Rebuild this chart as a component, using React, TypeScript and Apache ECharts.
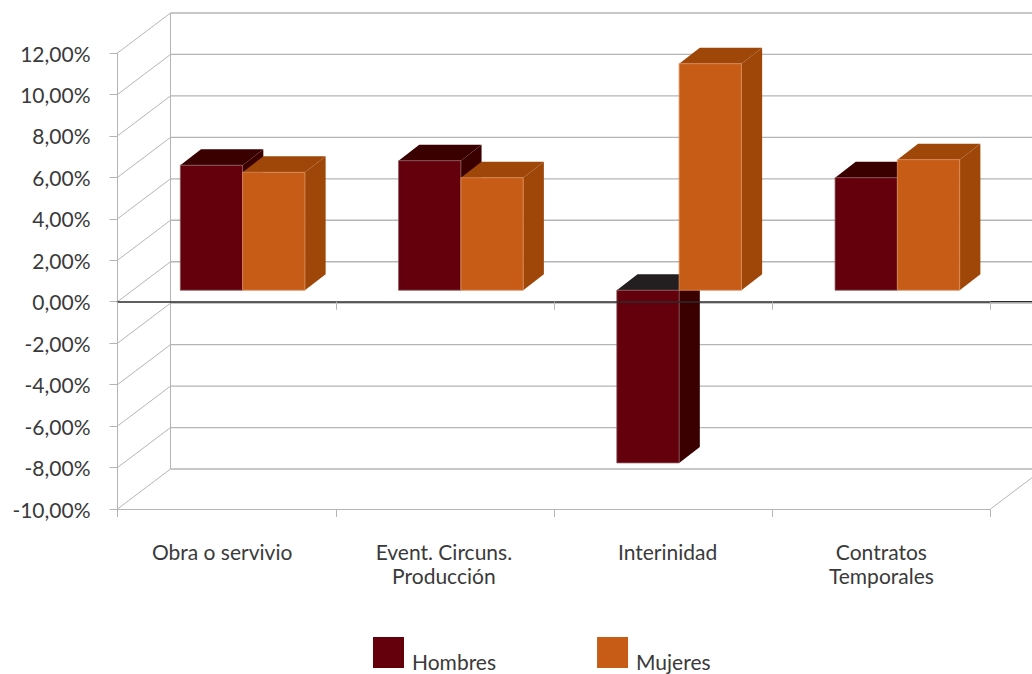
import React, { useEffect, useRef } from "react";
import * as echarts from "echarts";

const categories = ["Obra o servivio", "Event. Circuns.\nProducción", "Interinidad", "Contratos\nTemporales"];
const hombres = [6.03, 6.25, -8.33, 5.43];
const mujeres = [5.69, 5.43, 10.93, 6.3];
const yTicks = [12, 10, 8, 6, 4, 2, 0, -2, -4, -6, -8, -10];

const FONT = "Lato";
const FONT_SIZE = 21;
const GRID = "#b5b5b5";
const TEXT = "#3a3a3a";
const WALL_DX = 53;
const WALL_DY = -40;
const BAR_NEAR_DX = 16;
const BAR_NEAR_DY = -11.5;
const BAR_DX = 20.7;
const BAR_DY = -16;
const BAR_RATIO = 0.2855;

const labelRich: any = {
  l0: { fontFamily: FONT, fontSize: FONT_SIZE, color: TEXT, lineHeight: 24, padding: [0, 9, 0, 0] },
  l1: { fontFamily: FONT, fontSize: FONT_SIZE, color: TEXT, lineHeight: 24, padding: [0, 2, 0, 0] },
  l2: { fontFamily: FONT, fontSize: FONT_SIZE, color: TEXT, lineHeight: 24, padding: [0, 0, 0, 9] },
  l3: { fontFamily: FONT, fontSize: FONT_SIZE, color: TEXT, lineHeight: 24 },
};

const poly = (points: number[][], fill: string, stroke?: string) => ({
  type: "polygon",
  shape: { points },
  style: { fill, stroke: stroke || fill, lineWidth: stroke ? 0.8 : 0 },
});

const wallItem = (params: any, api: any) => {
  const v = api.value(1);
  const [, y] = api.coord([0, v]);
  const sys = params.coordSys;
  const left = sys.x;
  const right = sys.x + sys.width;
  const ln = (x1: number, y1: number, x2: number, y2: number, stroke = GRID, lineWidth = 1) => ({
    type: "line",
    shape: { x1, y1, x2, y2 },
    style: { stroke, lineWidth },
  });
  const children: any[] = [
    ln(left + WALL_DX, y + WALL_DY, right + WALL_DX, y + WALL_DY, GRID, 1.3),
    ln(left, y, left + WALL_DX, y + WALL_DY),
  ];
  if (params.dataIndex === 0) {
    const [, yBottom] = api.coord([0, yTicks[yTicks.length - 1]]);
    children.push(ln(left + WALL_DX, y + WALL_DY, left + WALL_DX, yBottom + WALL_DY));
    children.push(ln(right, yBottom, right + WALL_DX, yBottom + WALL_DY));
  }
  if (v === 0) {
    children.push(ln(right, y, right + WALL_DX, y, "#2b2b2b", 1.5));
  }
  return { type: "group", children };
};

const barItem = (slot: number, front: string, dark: string, edge: string) => (_: any, api: any) => {
  const cat = api.value(0);
  const [cx, yVal] = api.coord([cat, api.value(1)]);
  const [, yZero] = api.coord([cat, 0]);
  const band = api.size([1, 0])[0];
  const w = band * BAR_RATIO;
  const x0 = cx - w + slot * w + BAR_NEAR_DX;
  const x1 = x0 + w;
  const yBase = yZero + BAR_NEAR_DY;
  const yEnd = yVal + BAR_NEAR_DY;
  const top = Math.min(yBase, yEnd);
  const bottom = Math.max(yBase, yEnd);
  const negative = yEnd > yBase;
  return {
    type: "group",
    children: [
      poly([[x0, top], [x0 + BAR_DX, top + BAR_DY], [x1 + BAR_DX, top + BAR_DY], [x1, top]], negative ? "#231f20" : dark),
      poly([[x1, top], [x1 + BAR_DX, top + BAR_DY], [x1 + BAR_DX, bottom + BAR_DY], [x1, bottom]], dark),
      poly([[x0, top], [x1, top], [x1, bottom], [x0, bottom]], front, edge),
    ],
  };
};

export default function App() {
  const ref = useRef<HTMLDivElement>(null);
  useEffect(() => {
    const chart = echarts.init(ref.current!, undefined, { renderer: "svg" });
    const sharedTick = { show: true, length: 8, lineStyle: { color: GRID, width: 1 } };
    chart.setOption({
      animation: false,
      backgroundColor: "#ffffff",
      textStyle: { fontFamily: FONT },
      grid: { left: 117.5, right: 41.5, top: 53, bottom: 165 },
      legend: {
        left: 373,
        top: 637,
        padding: 0,
        itemWidth: 31,
        itemHeight: 31,
        itemGap: 101,
        icon: "rect",
        selectedMode: false,
        data: ["Hombres", "Mujeres"],
        formatter: (name: string) => `{a|${name}}`,
        textStyle: {
          fontFamily: FONT,
          fontSize: FONT_SIZE,
          color: TEXT,
          rich: {
            a: {
              fontFamily: FONT,
              fontSize: FONT_SIZE,
              color: TEXT,
              lineHeight: 38,
              verticalAlign: "bottom",
              padding: [0, 0, 0, 3],
            },
          },
        },
      },
      xAxis: [
        {
          type: "category",
          data: categories,
          position: "bottom",
          axisLine: { onZero: false, lineStyle: { color: GRID, width: 1 } },
          axisTick: sharedTick,
          splitLine: { show: false },
          axisLabel: {
            margin: 30,
            interval: 0,
            lineHeight: 24,
            rich: labelRich,
            formatter: (value: string, index: number) =>
              value.split("\n").map((line) => `{l${index}|${line}}`).join("\n"),
          },
        },
        {
          type: "category",
          data: categories,
          position: "bottom",
          z: 5,
          axisLine: { onZero: true, lineStyle: { color: "#2b2b2b", width: 1.5 } },
          axisTick: sharedTick,
          axisLabel: { show: false },
          splitLine: { show: false },
        },
      ],
      yAxis: {
        type: "value",
        min: -10,
        max: 12,
        interval: 2,
        axisLine: { show: true, onZero: false, lineStyle: { color: GRID, width: 1 } },
        axisTick: { show: true, length: 8, lineStyle: { color: GRID, width: 1 } },
        splitLine: { show: false },
        axisLabel: {
          fontFamily: FONT,
          fontSize: FONT_SIZE,
          color: TEXT,
          margin: 27,
          formatter: (v: number) => v.toFixed(2).replace(".", ",") + "%",
        },
      },
      series: [
        {
          type: "custom",
          name: "walls",
          z: 1,
          silent: true,
          renderItem: wallItem,
          encode: { x: 0, y: 1 },
          data: yTicks.map((v) => [0, v]),
        },
        {
          type: "custom",
          name: "Hombres",
          z: 2,
          itemStyle: { color: "#64000c" },
          renderItem: barItem(0, "#64000c", "#3a0000", "#8a5a60"),
          encode: { x: 0, y: 1 },
          data: hombres.map((v, i) => [i, v]),
        },
        {
          type: "custom",
          name: "Mujeres",
          z: 3,
          itemStyle: { color: "#c75c17" },
          renderItem: barItem(1, "#c75c17", "#9f4709", "#dc8f5e"),
          encode: { x: 0, y: 1 },
          data: mujeres.map((v, i) => [i, v]),
        },
      ],
    });
    return () => chart.dispose();
  }, []);
  return <div ref={ref} style={{ position: "fixed", left: 0, top: 0, width: 1032, height: 674 }} />;
}
